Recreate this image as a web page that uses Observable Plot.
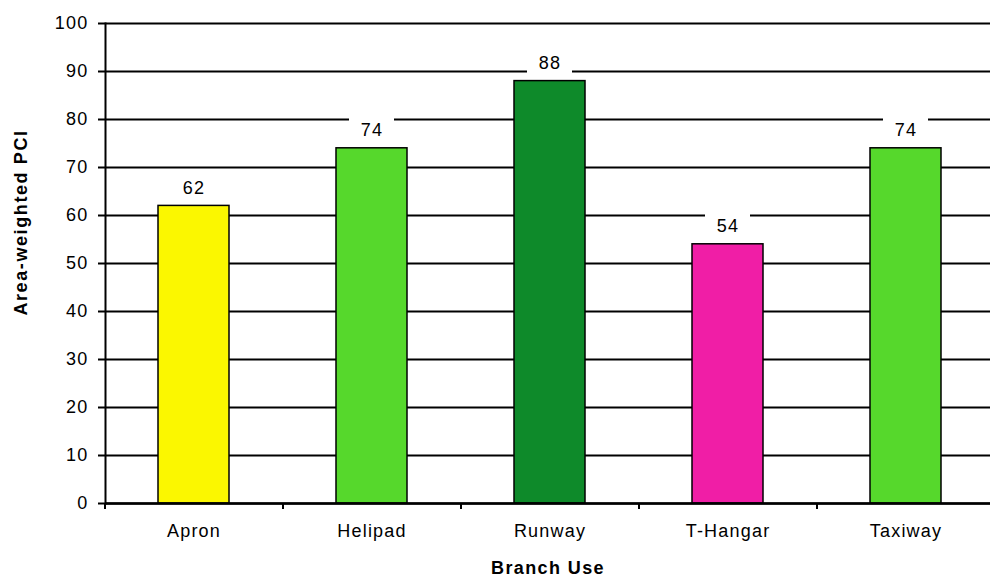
<!DOCTYPE html>
<html>
<head>
<meta charset="utf-8">
<script src="https://cdn.jsdelivr.net/npm/d3@7"></script>
<script src="https://cdn.jsdelivr.net/npm/@observablehq/plot@0.6"></script>
<style>
  html, body { margin: 0; padding: 0; background: #fff; }
  #chart svg { display: block; font-family: "Liberation Sans", Arial, sans-serif; }
  #chart svg text { letter-spacing: 1.2px; }
  #chart svg .title-y text { letter-spacing: 1.6px; }
  #chart svg .title-x text { letter-spacing: 1.4px; }
</style>
</head>
<body>
<div id="chart"></div>
<script>
// Area-weighted PCI by branch use
const uses = ["Apron", "Helipad", "Runway", "T-Hangar", "Taxiway"];
const pci = [62, 74, 88, 54, 74];
const barColors = ["#fbf700", "#56d82c", "#0e8a2a", "#f01ea6", "#56d82c"];
const yTicks = [0, 10, 20, 30, 40, 50, 60, 70, 80, 90, 100];

const data = uses.map((use, i) => ({use, pci: pci[i]}));

const xRange = [105, 995];
const step = (xRange[1] - xRange[0]) / uses.length;

const chart = Plot.plot({
  width: 990,
  height: 578,
  marginLeft: 105,
  marginRight: 0,
  marginTop: 23,
  marginBottom: 75,
  style: {fontFamily: "Liberation Sans, Arial, sans-serif", fontSize: "18px", color: "#000", background: "#fff"},
  x: {domain: uses, range: xRange, paddingInner: 0.6, paddingOuter: 0.3, align: 0.5},
  y: {domain: [0, 100], range: [503, 23]},
  color: {domain: uses, range: barColors},
  marks: [
    // horizontal gridlines
    Plot.ruleY(yTicks, {y: d => d, stroke: "#000", strokeWidth: 2}),
    // bars
    Plot.barY(data, {x: "use", y: "pci", fill: "use", stroke: "#000", strokeWidth: 1.5}),
    // white boxes behind the value labels
    Plot.ruleY(data, {x1: "use", x2: "use", y: "pci", dy: -18, stroke: "#fff", strokeWidth: 26, insetLeft: 13, insetRight: 13}),
    Plot.text(data, {x: "use", y: "pci", text: d => String(d.pci), dy: -18, fontSize: 18, fill: "#000"}),
    // left axis line and baseline
    Plot.frame({anchor: "left", stroke: "#000", strokeWidth: 2}),
    Plot.ruleY([0], {stroke: "#000", strokeWidth: 2.5}),
    // y axis
    Plot.axisY({ticks: yTicks, tickSize: 7, tickPadding: 10, label: null, fontSize: 18, strokeWidth: 2}),
    Plot.text(["Area-weighted PCI"], {frameAnchor: "left", textAnchor: "middle", rotate: -90, dx: -84, dy: -41, fontWeight: "bold", fontSize: 18, className: "title-y"}),
    // category boundary ticks
    Plot.axisX({tickSize: 6, tickFormat: () => "", dx: -step / 2, label: null, strokeWidth: 2}),
    // category labels
    Plot.axisX({tickSize: 0, tickPadding: 21, label: null, fontSize: 18}),
    Plot.text(["Branch Use"], {frameAnchor: "bottom", dy: 70, fontWeight: "bold", fontSize: 18, className: "title-x"})
  ]
});

document.getElementById("chart").appendChild(chart);
</script>
</body>
</html>
